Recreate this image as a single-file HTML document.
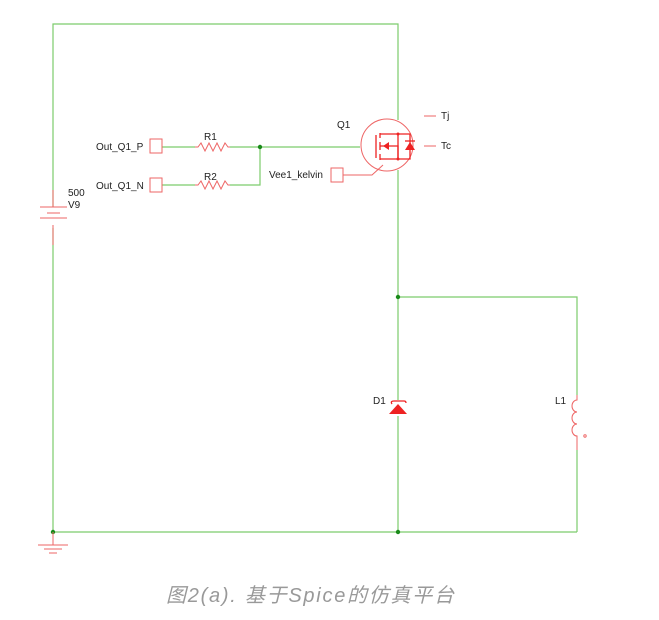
<!DOCTYPE html>
<html><head><meta charset="utf-8"><style>
body{margin:0;background:#fff;width:659px;height:615px;overflow:hidden}
text{font-family:"Liberation Sans",Arial,sans-serif;font-size:10px;fill:#222}
</style></head><body>
<svg width="659" height="615" xmlns="http://www.w3.org/2000/svg">
<g stroke="#7ccc6c" stroke-width="1.2" fill="none">
<polyline points="53,207 53,24 398,24 398,120"/>
<line x1="53" y1="228" x2="53" y2="532"/>
<line x1="53" y1="532" x2="577" y2="532"/>
<polyline points="398,170 398,400"/>
<line x1="398" y1="416" x2="398" y2="532"/>
<polyline points="398,297 577,297 577,395"/>
<line x1="577" y1="450" x2="577" y2="532"/>
<line x1="162" y1="147" x2="195" y2="147"/>
<line x1="230" y1="147" x2="360" y2="147"/>
<line x1="162" y1="185" x2="195" y2="185"/>
<polyline points="230,185 260,185 260,147"/>
</g>
<g fill="#1a8a1a"><circle cx="260" cy="147" r="2.2"/><circle cx="398" cy="297" r="2.2"/><circle cx="53" cy="532" r="2.2"/><circle cx="398" cy="532" r="2.2"/></g>
<g stroke="#ee6666" stroke-width="1" fill="none">
<line x1="53" y1="190" x2="53" y2="207"/><line x1="40" y1="207" x2="67" y2="207"/><line x1="47" y1="213" x2="60" y2="213"/><line x1="40" y1="218" x2="67" y2="218"/><line x1="53" y1="225" x2="53" y2="245"/>
<rect x="150" y="139" width="12" height="14"/><rect x="150" y="178" width="12" height="14"/><rect x="331" y="168" width="12" height="14"/>
<polyline points="195,147 198,147 201,143 205,151 209,143 213,151 217,143 221,151 225,143 228,147 230,147"/>
<polyline points="195,185 198,185 201,181 205,189 209,181 213,189 217,181 221,189 225,181 228,185 230,185"/>
<polyline points="343,175 372,175 383,165"/>
<circle cx="387" cy="145" r="26"/>
<line x1="424" y1="116" x2="436" y2="116"/><line x1="424" y1="146" x2="436" y2="146"/>
<line x1="53" y1="532" x2="53" y2="545"/><line x1="38" y1="545" x2="68" y2="545"/><line x1="44" y1="549" x2="62" y2="549"/><line x1="49" y1="553" x2="57" y2="553"/>
<path d="M577,395 v5 a5,6 0 0 0 0,12 a5,6 0 0 0 0,12 a5,6 0 0 0 0,12 v14"/>
<circle cx="585" cy="436" r="1.2"/>
</g>
<g stroke="#ee2222" stroke-width="1.3" fill="none">
<line x1="376" y1="135" x2="376" y2="158"/>
<line x1="380" y1="133" x2="380" y2="138"/><line x1="380" y1="142" x2="380" y2="150"/><line x1="380" y1="154" x2="380" y2="160"/>
<polyline points="380,134 398,134"/><polyline points="380,146 398,146 398,158"/><polyline points="380,159 398,159"/>
<line x1="398" y1="134" x2="398" y2="158"/>
<polyline points="398,134 410,134 410,159 398,159"/>
<line x1="405" y1="141" x2="415" y2="141"/>
<path d="M392,404 q-2,-3 2,-3 h10 q2,0 2,2"/>
</g>
<g fill="#ee2222">
<polygon points="383,146 389,142 389,150"/><polygon points="405,150 415,150 410,142"/>
<polygon points="389,414 407,414 398,404"/>
<circle cx="398" cy="134" r="1.5"/><circle cx="398" cy="159" r="1.5"/>
</g>
<text x="96" y="150">Out_Q1_P</text><text x="96" y="189">Out_Q1_N</text>
<text x="204" y="140">R1</text><text x="204" y="180">R2</text>
<text x="337" y="128">Q1</text><text x="441" y="119">Tj</text><text x="441" y="149">Tc</text>
<text x="269" y="178">Vee1_kelvin</text>
<text x="68" y="196">500</text><text x="68" y="208">V9</text>
<text x="373" y="404">D1</text><text x="555" y="404">L1</text>
<text x="310" y="602" text-anchor="middle" textLength="288" style="font-size:20px;font-style:italic;fill:#999;font-family:'Liberation Sans','Noto Sans CJK SC',sans-serif">图2(a). 基于Spice的仿真平台</text>
</svg>
</body></html>
